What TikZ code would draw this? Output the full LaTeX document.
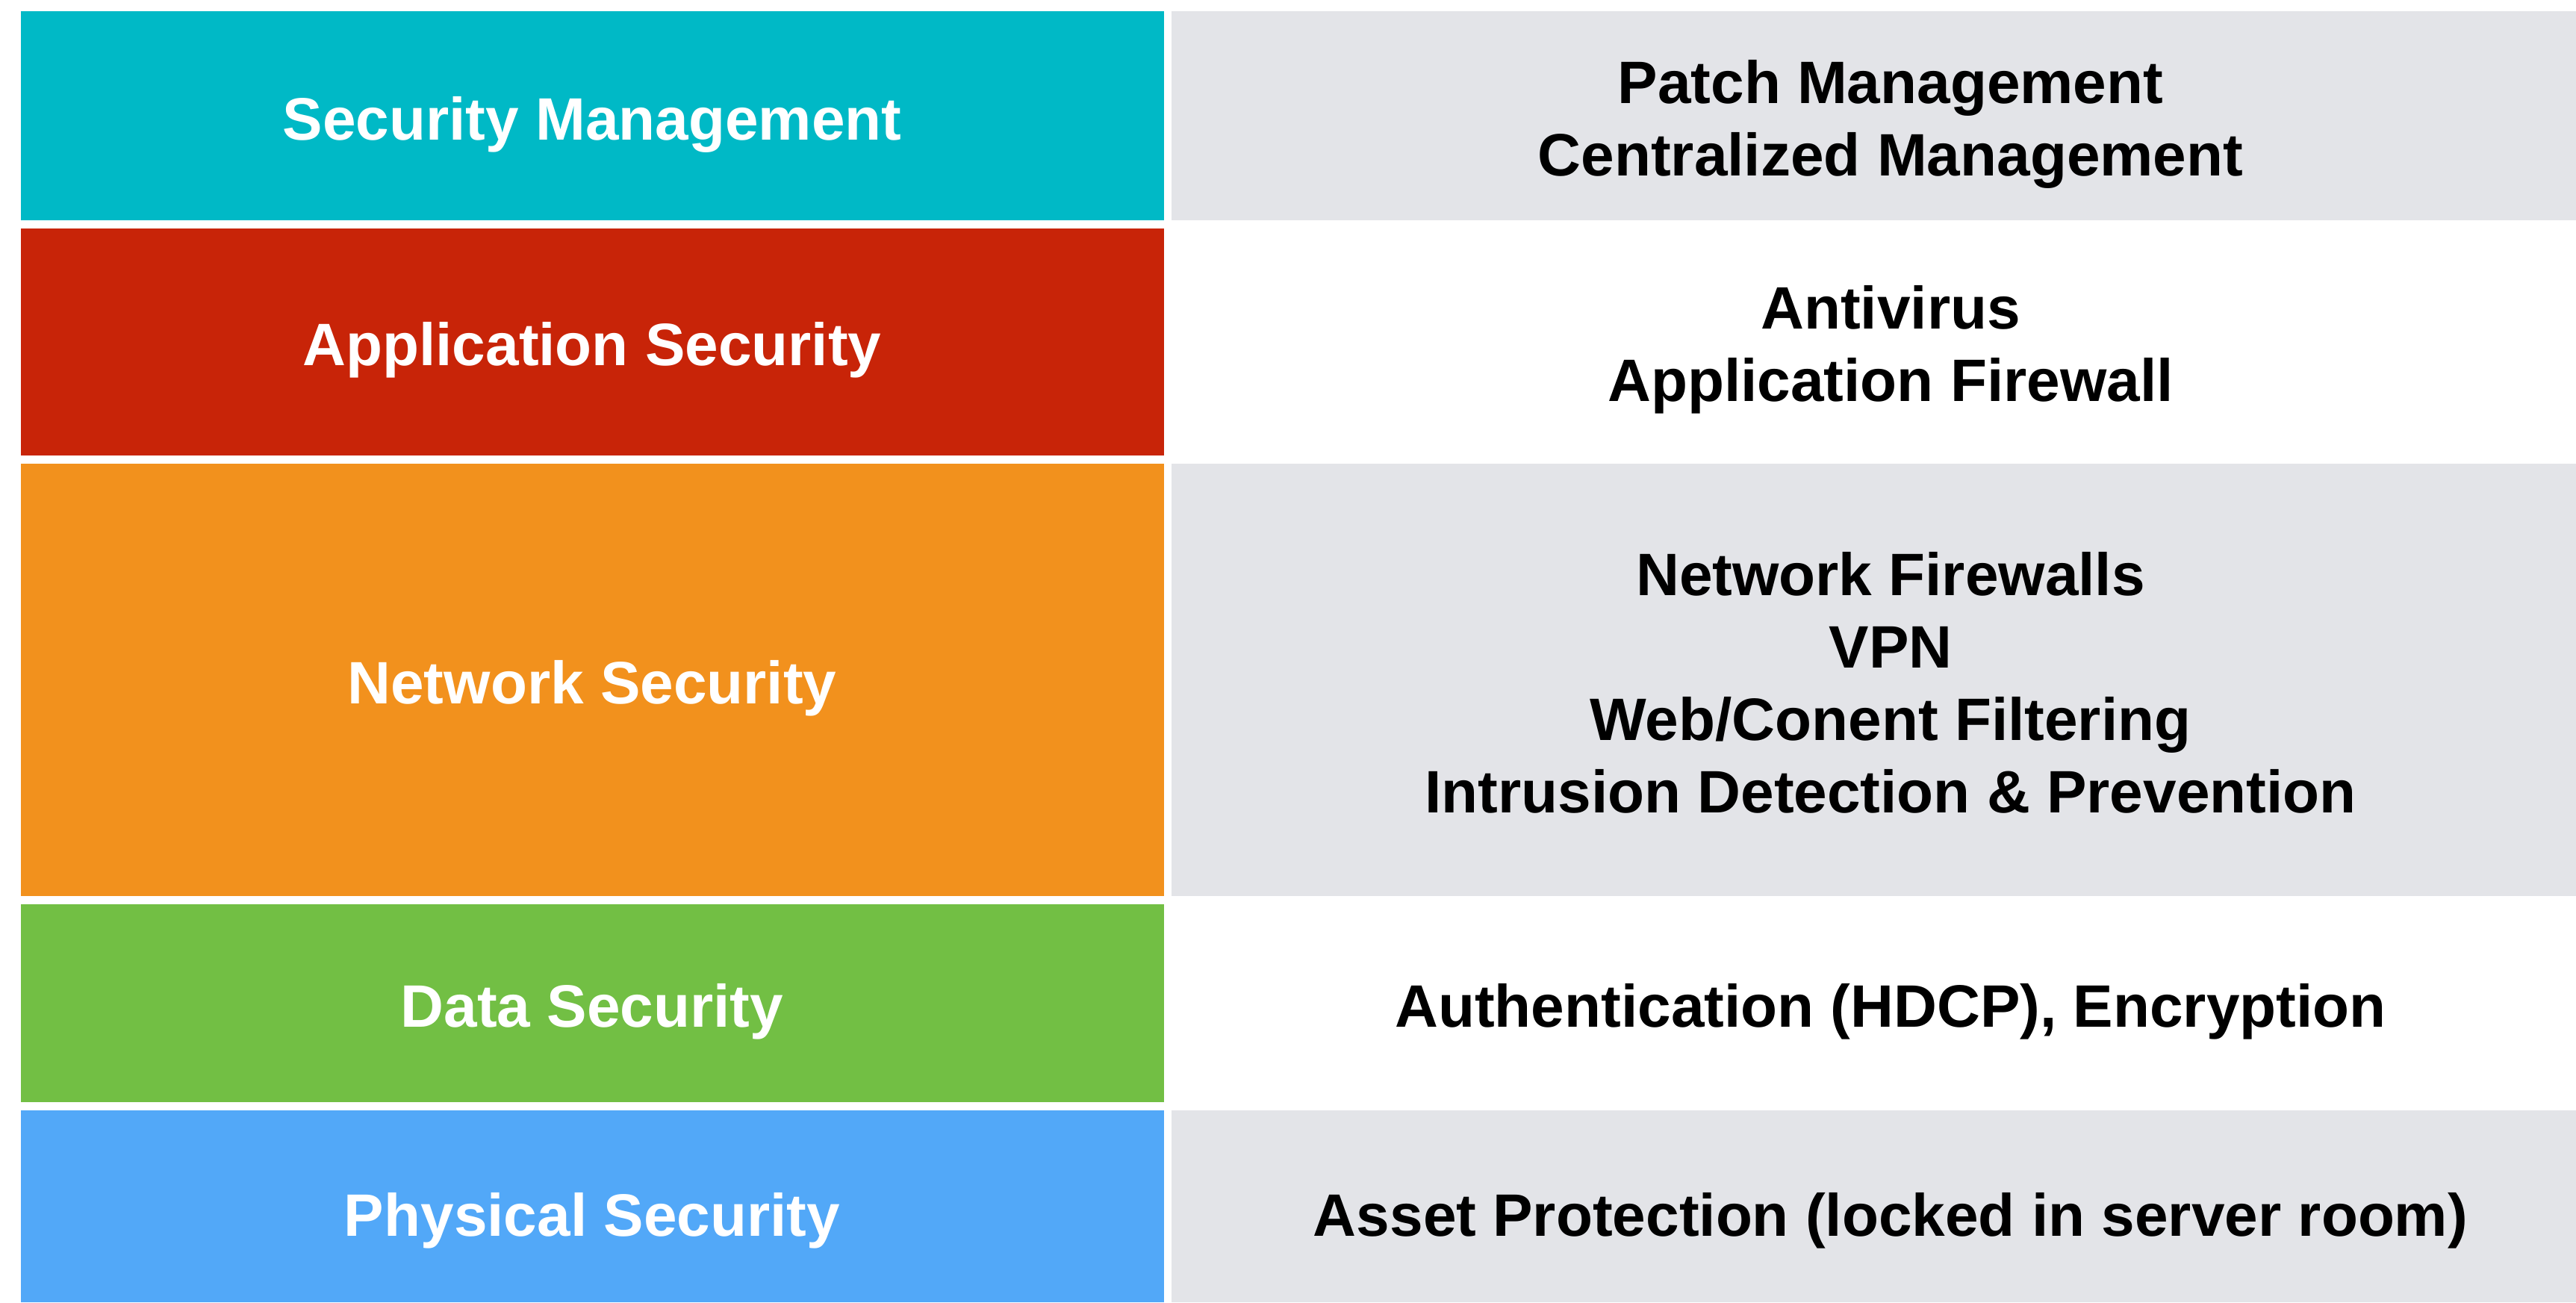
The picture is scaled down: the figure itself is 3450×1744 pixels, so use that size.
\documentclass[tikz,border=0pt]{standalone}
\usepackage{fontspec}
\setmainfont{Liberation Sans}
\usepackage{xcolor}
\usepackage{tikz}
\usetikzlibrary{positioning}
\definecolor{MgmtCyan}{RGB}{0, 185, 198}
\definecolor{AppRed}{RGB}{200, 36, 8}
\definecolor{NetOrange}{RGB}{242, 145, 29}
\definecolor{DataGreen}{RGB}{114, 191, 68}
\definecolor{PhysBlue}{RGB}{82, 168, 248}
\definecolor{RowGray}{RGB}{227, 228, 232}

\tikzset{
    layertext/.style={white, font=\bfseries\fontsize{22.8pt}{27.6pt}\selectfont},
    itemtext/.style={black, align=center, font=\bfseries\fontsize{22.8pt}{27.6pt}\selectfont},
}

\begin{document}
\begin{tikzpicture}[x=0.01cm, y=-0.01cm]
    \useasboundingbox (0,0) rectangle (3450,1744);
    % layer colours on the left
    \fill[MgmtCyan]   (28,15)   rectangle (1559,295);
    \fill[AppRed]     (28,306)  rectangle (1559,610);
    \fill[NetOrange]  (28,621)  rectangle (1559,1200);
    \fill[DataGreen]  (28,1211) rectangle (1559,1476);
    \fill[PhysBlue]   (28,1487) rectangle (1559,1744);
    % grey bands on the right
    \fill[RowGray] (1569,15)   rectangle (3450,295);
    \fill[RowGray] (1569,621)  rectangle (3450,1200);
    \fill[RowGray] (1569,1487) rectangle (3450,1744);
    % layer names
    \node[layertext] (mgmt) at (793,167)  {Security Management};
    \node[layertext] (app)  at (793,469)  {Application Security};
    \node[layertext] (net)  at (793,922)  {Network Security};
    \node[layertext] (data) at (793,1355) {Data Security};
    \node[layertext] (phys) at (793,1635) {Physical Security};
    % measures per layer
    \node[itemtext] (mgmtitems) at (2532,166)  {Patch Management\\Centralized Management};
    \node[itemtext] (appitems)  at (2532,468)  {Antivirus\\Application Firewall};
    \node[itemtext] (netitems)  at (2532,914)  {Network Firewalls\\VPN\\Web/Conent Filtering\\Intrusion Detection \& Prevention};
    \node[itemtext] (dataitems) at (2532,1355) {Authentication (HDCP), Encryption};
    \node[itemtext] (physitems) at (2532,1635) {Asset Protection (locked in server room)};
\end{tikzpicture}
\end{document}
